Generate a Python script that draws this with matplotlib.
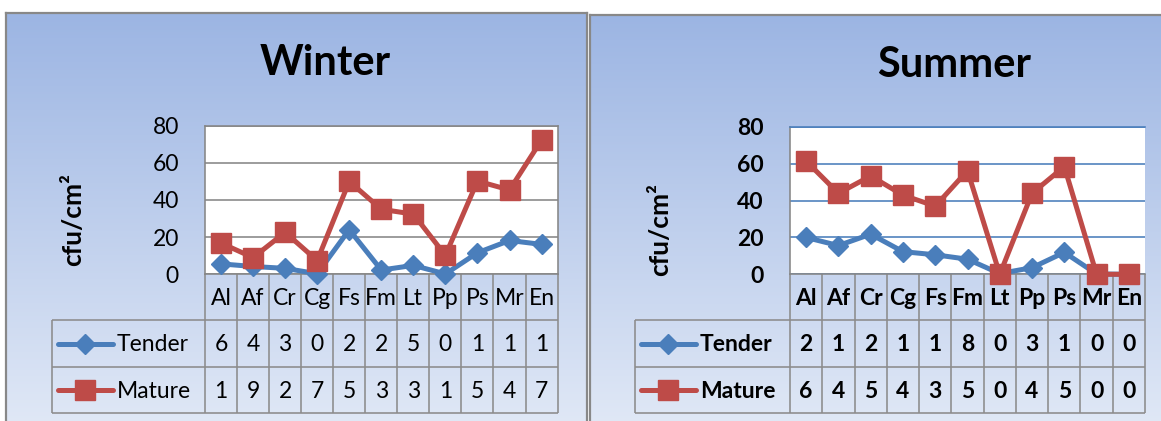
import numpy as np
import matplotlib.pyplot as plt

W, H = 1161, 421

categories = ["Al", "Af", "Cr", "Cg", "Fs", "Fm", "Lt", "Pp", "Ps", "Mr", "En"]

# cfu/cm2 per species, tender and mature leaves
winter_tender = [5.6, 4.2, 3.2, 0.3, 24.0, 2.3, 4.8, 0.2, 11.6, 18.2, 16.1]
winter_mature = [16.8, 9.0, 22.6, 7.4, 50.0, 35.0, 32.4, 10.2, 50.2, 45.4, 72.3]
summer_tender = [20.0, 15.6, 21.8, 12.3, 10.6, 8.2, 0.4, 3.6, 11.9, 0.2, 0.0]
summer_mature = [61.5, 44.0, 53.4, 43.0, 37.0, 56.3, 0.0, 44.0, 58.5, 0.0, 0.0]

# text shown in the data table cells
winter_tender_cells = ["6", "4", "3", "0", "2", "2", "5", "0", "1", "1", "1"]
winter_mature_cells = ["1", "9", "2", "7", "5", "3", "3", "1", "5", "4", "7"]
summer_tender_cells = ["2", "1", "2", "1", "1", "8", "0", "3", "1", "0", "0"]
summer_mature_cells = ["6", "4", "5", "4", "3", "5", "0", "4", "5", "0", "0"]

yticks = [0, 20, 40, 60, 80]

plt.rcParams['font.family'] = ['Lato', 'DejaVu Sans']

BLUE = "#4A7EBB"
RED = "#BE4B48"
GRAY = "#868686"
PX = 72 / 100  # points per pixel at dpi 100


def box(x0, y0, x1, y1):
    # pixel box measured from the top-left corner -> figure fraction rect
    return [x0 / W, 1 - y1 / H, (x1 - x0) / W, (y1 - y0) / H]


def backdrop(fig, x0, y0, x1, y1, right_edge=True):
    bg = fig.add_axes(box(x0, y0, x1, y1), zorder=0)
    t = np.linspace(0, 1, 256)[:, None, None]
    top = np.array([156, 181, 227]) / 255
    bottom = np.array([224, 232, 246]) / 255
    bg.imshow(top + (bottom - top) * t, aspect="auto", extent=(0, 1, 0, 1))
    bg.set_xticks([])
    bg.set_yticks([])
    for side, sp in bg.spines.items():
        sp.set_color("#888888")
        sp.set_linewidth(2.2 * PX)
    bg.spines["bottom"].set_visible(False)
    bg.spines["right"].set_visible(right_edge)


def panel(fig, title, tender, mature, tender_cells, mature_cells,
          plot_x0, plot_x1, plot_top, table_x0, ylabel_xy, title_xy,
          weight, grid_color, right_spine):
    n = len(categories)
    x = np.arange(n)
    zero_y, table_bottom = 274.3, 412.7

    ax = fig.add_axes(box(plot_x0, plot_top, plot_x1, zero_y), zorder=3)
    ax.set_facecolor("white")
    ax.set_xlim(-0.5, n - 0.5)
    ax.set_ylim(0, 80)
    ax.set_xticks([])
    ax.set_yticks(yticks)
    ax.set_yticklabels([str(v) for v in yticks], fontsize=16.5, fontweight=weight)
    ax.tick_params(axis="y", length=0, pad=26 * PX)
    ax.grid(axis="y", color=grid_color, lw=1.6 * PX)
    ax.set_axisbelow(True)
    for side in ("left", "bottom", "right"):
        ax.spines[side].set_color(GRAY)
        ax.spines[side].set_linewidth(1.6 * PX)
    ax.spines["top"].set_color(grid_color)
    ax.spines["top"].set_linewidth(1.6 * PX)
    ax.spines["right"].set_visible(right_spine)

    ax.plot(x, tender, color=BLUE, lw=3.6, marker="D", ms=10.5,
            clip_on=False, zorder=3)
    ax.plot(x, mature, color=RED, lw=3.6, marker="s", ms=14,
            clip_on=False, zorder=4)

    # data table under the plot
    tab = fig.add_axes(box(table_x0, zero_y, plot_x1, table_bottom), zorder=2)
    tab.set_axis_off()
    col = (plot_x1 - plot_x0) / n
    left = -0.5 - (plot_x0 - table_x0) / col
    tab.set_xlim(left, n - 0.5)
    tab.set_ylim(0, 3)
    line_kw = dict(color="#8C8C8C", lw=1.6 * PX, clip_on=False, solid_capstyle="butt")
    for i in range(n + 1):
        tab.plot([i - 0.5, i - 0.5], [0, 3], **line_kw)
    tab.plot([left, left], [0, 2], **line_kw)
    for yy in (0, 1, 2):
        tab.plot([left, n - 0.5], [yy, yy], **line_kw)

    for i in range(n):
        tab.text(i, 2.47, categories[i], ha="center", va="center",
                 fontsize=16.5, fontweight=weight)
        tab.text(i, 1.47, tender_cells[i], ha="center", va="center",
                 fontsize=16.5, fontweight=weight)
        tab.text(i, 0.47, mature_cells[i], ha="center", va="center",
                 fontsize=16.5, fontweight=weight)

    # legend keys inside the first column
    def px(v):
        return left + (v - table_x0) / col

    key = [(1.5, "Tender", BLUE, "D", 10.5), (0.5, "Mature", RED, "s", 14)]
    for yy, label, color, mk, ms in key:
        tab.plot([px(table_x0 + 6), px(table_x0 + 61)], [yy, yy], color=color,
                 lw=3.6, solid_capstyle="round", clip_on=False)
        tab.plot([px(table_x0 + 33.5)], [yy], color=color, marker=mk, ms=ms,
                 clip_on=False)
        tab.text(px(table_x0 + 65), yy - 0.03, label, ha="left", va="center",
                 fontsize=16.5, fontweight=weight)

    fig.text(ylabel_xy[0] / W, 1 - ylabel_xy[1] / H, "cfu/cm²", rotation=90,
             ha="center", va="center", fontsize=19, fontweight="bold")
    fig.text(title_xy[0] / W, 1 - title_xy[1] / H, title, ha="center",
             va="center", fontsize=30, fontweight="bold")


fig = plt.figure(figsize=(W / 100, H / 100), dpi=100, facecolor="white")

backdrop(fig, 6, 13, 587, 425)
backdrop(fig, 590, 15, 1170, 425, right_edge=False)

panel(fig, "Winter", winter_tender, winter_mature,
      winter_tender_cells, winter_mature_cells,
      plot_x0=205, plot_x1=557.6, plot_top=125.7, table_x0=52,
      ylabel_xy=(73, 220), title_xy=(325, 63),
      weight="normal", grid_color=GRAY, right_spine=True)

panel(fig, "Summer", summer_tender, summer_mature,
      summer_tender_cells, summer_mature_cells,
      plot_x0=790, plot_x1=1145, plot_top=127, table_x0=635,
      ylabel_xy=(660, 230), title_xy=(954, 65),
      weight="bold", grid_color=BLUE, right_spine=False)

fig.savefig("out.png", dpi=100, facecolor="white")
